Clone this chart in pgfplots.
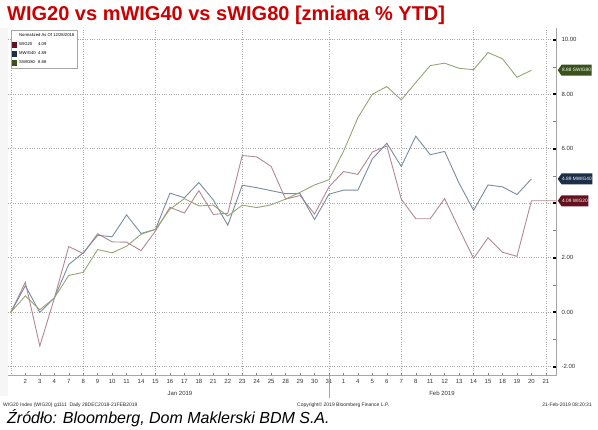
\documentclass[border=0pt]{standalone}
\usepackage{pgfplots}
\pgfplotsset{compat=1.18}
\usepackage{pgfplotstable}
\usepackage{fontspec}
\setmainfont{Liberation Sans}
\usetikzlibrary{shapes.symbols}
\definecolor{titlered}{RGB}{204,0,0}
\definecolor{cWIG}{RGB}{178,136,146}
\definecolor{cMW}{RGB}{122,140,160}
\definecolor{cSW}{RGB}{150,166,118}
\definecolor{dWIG}{RGB}{100,18,32}
\definecolor{dMW}{RGB}{28,46,72}
\definecolor{dSW}{RGB}{58,82,26}
\pgfplotstableread{
i w m s
0 0 0 0
1 1.10 0.97 0.60
2 -1.24 -0.01 0.09
3 0.50 0.52 0.52
4 2.41 1.75 1.35
5 2.15 2.18 1.46
6 2.88 2.82 2.30
7 2.58 2.77 2.18
8 2.57 3.57 2.42
9 2.26 2.89 2.86
10 2.98 3.04 3.04
11 3.85 4.37 3.78
12 3.64 4.20 4.17
13 4.46 4.76 3.90
14 3.59 4.12 3.93
15 3.63 3.19 3.53
16 5.75 4.66 3.93
17 5.70 4.57 3.84
18 5.35 4.46 3.94
19 4.15 4.35 4.15
20 4.28 4.35 4.40
21 3.60 3.40 4.67
22 4.60 4.33 4.86
23 5.16 4.48 5.90
24 5.06 4.48 7.14
25 5.88 5.63 8.00
26 6.10 6.20 8.28
27 4.15 5.35 7.79
28 3.43 6.46 8.43
29 3.43 5.78 9.05
30 4.17 5.90 9.14
31 3.06 4.73 8.95
32 1.98 3.74 8.90
33 2.73 4.67 9.53
34 2.20 4.60 9.30
35 2.05 4.32 8.62
36 4.09 4.89 8.88
}\datatable
\begin{document}
\begin{tikzpicture}
\path[use as bounding box] (0pt,0pt) rectangle (598pt,-430pt);
\fill[gray!7] (0pt,-28pt) rectangle (8pt,-396pt);
\node[anchor=base west, inner sep=0pt, text=titlered, font=\fontsize{20}{22}\selectfont\bfseries] at (7pt,-21pt) {WIG20 vs mWIG40 vs sWIG80 [zmiana \% YTD]};
\begin{axis}[
  at={(8pt,-375.7pt)}, anchor=south west,
  width=548pt, height=347.7pt, scale only axis,
  xmin=-0.2, xmax=37.7, ymin=-2.33, ymax=10.43,
  axis x line*=bottom, axis y line*=right,
  axis line style={gray!70, line width=0.8pt},
  /pgf/number format/assume math mode=true,
  xtick={1,...,37},
  xticklabels={2,3,4,7,8,9,10,11,14,15,16,17,18,21,22,23,24,25,28,29,30,31,1,4,5,6,7,8,11,12,13,14,15,18,19,20,21},
  minor xtick={0,5,10,16,22,27,32,37},
  xminorgrids=true,
  minor x tick style={draw=none},
  major x tick style={gray, line width=0.4pt},
  major tick length=3pt,
  tick align=inside,
  ytick={-2,0,2,4,6,8,10},
  yticklabels={-2.00,0.00,2.00,,6.00,8.00,10.00},
  minor ytick={-1,1,3,5,7,9},
  every major y tick/.append style={black, line width=2.2pt},
  every minor y tick/.append style={gray, line width=0.5pt},
  yticklabel style={font=\fontsize{6}{7}\selectfont, text=gray!40!black, xshift=2pt},
  xticklabel style={font=\fontsize{6}{7}\selectfont, text=gray!40!black},
  ymajorgrids=true,
  major grid style={dotted, gray!70, line width=0.6pt},
  minor grid style={dotted, gray!70, line width=0.6pt},
  clip mode=individual,
  legend style={at={(0.0055,0.994)}, anchor=north west, font=\fontsize{4.2}{5.2}\selectfont, draw=gray!70, fill=white, inner sep=1pt, row sep=0.6pt, cells={anchor=west}, line width=0.6pt},
  legend cell align=left,
]
\addlegendimage{empty legend}
\addlegendentry{Normalized As Of 12/28/2018}
\addplot[cWIG, line width=0.9pt, legend image code/.code={\fill[dWIG] (0pt,-2.5pt) rectangle (4pt,2.5pt);}] table[x=i,y=w]{\datatable} -- (axis cs:37.7,4.09);
\addlegendentry{\makebox[19pt][l]{WIG20}4.09}
\addplot[cMW, line width=0.9pt, legend image code/.code={\fill[dMW] (0pt,-2.5pt) rectangle (4pt,2.5pt);}] table[x=i,y=m]{\datatable};
\addlegendentry{\makebox[19pt][l]{MWIG40}4.89}
\addplot[cSW, line width=0.9pt, legend image code/.code={\fill[dSW] (0pt,-2.5pt) rectangle (4pt,2.5pt);}] table[x=i,y=s]{\datatable};
\addlegendentry{\makebox[19pt][l]{SWIG80}8.88}
\coordinate (tS) at (axis cs:37.7,8.88);
\coordinate (tM) at (axis cs:37.7,4.89);
\coordinate (tW) at (axis cs:37.7,4.09);
\end{axis}
\begin{scope}[every node/.style={signal, signal to=west, text=white, font=\fontsize{4.8}{5.5}\selectfont, inner xsep=0.6pt, inner ysep=1pt, anchor=west, minimum height=11pt, signal pointer angle=110}]
\node[fill=dSW] at ([xshift=1.5pt]tS) {8.88 SWIG80};
\node[fill=dMW] at ([xshift=1.5pt]tM) {4.89 MWIG40};
\node[fill=dWIG] at ([xshift=1.5pt]tW) {4.09 WIG20};
\end{scope}
\draw[gray!70, line width=0.5pt] (329pt,-376pt) -- (329pt,-398pt);
\node[font=\fontsize{6}{7}\selectfont, text=gray!40!black] at (180pt,-393pt) {Jan 2019};
\node[font=\fontsize{6}{7}\selectfont, text=gray!40!black] at (442pt,-393pt) {Feb 2019};
\node[anchor=base west, inner sep=0pt, font=\fontsize{5}{6}\selectfont, text=gray!30!black] at (3pt,-407pt) {WIG20 Index (WIG20) g1111 \ Daily 28DEC2018-21FEB2019};
\node[anchor=base west, inner sep=0pt, font=\fontsize{5}{6}\selectfont, text=gray!30!black] at (297pt,-407pt) {Copyright© 2019 Bloomberg Finance L.P.};
\node[anchor=base east, inner sep=0pt, font=\fontsize{5}{6}\selectfont, text=gray!30!black] at (592pt,-407pt) {21-Feb-2019 08:20:31};
\node[anchor=base west, inner sep=0pt, font=\fontsize{16}{18}\selectfont\itshape] at (7pt,-424pt) {Źródło: Bloomberg, Dom Maklerski BDM S.A.};
\end{tikzpicture}
\end{document}
